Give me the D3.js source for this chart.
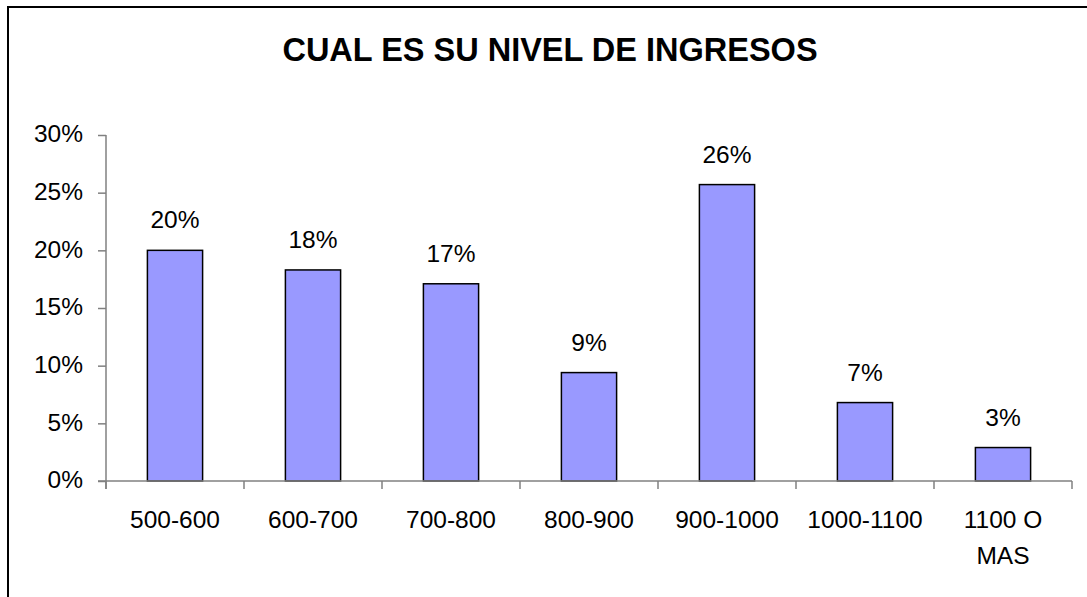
<!DOCTYPE html>
<html>
<head>
<meta charset="utf-8">
<script src="https://cdn.jsdelivr.net/npm/d3@7"></script>
<style>
  body { margin: 0; background: #fff; }
  svg { display: block; font-family: "Liberation Sans", Arial, sans-serif; }
</style>
</head>
<body>
<svg id="chart" width="1087" height="597"></svg>
<script>
// data
const categories = ["500-600", "600-700", "700-800", "800-900", "900-1000", "1000-1100", "1100 O MAS"];
const values = [0.20, 0.183, 0.171, 0.094, 0.257, 0.068, 0.029];
const valueLabels = ["20%", "18%", "17%", "9%", "26%", "7%", "3%"];
const yTicks = [0, 0.05, 0.10, 0.15, 0.20, 0.25, 0.30];
const title = "CUAL ES SU NIVEL DE INGRESOS";

const svg = d3.select("#chart");
const margin = { left: 106, right: 1072, top: 135, bottom: 481 };
const fs = 24.5;

// outer frame
svg.append("rect")
  .attr("x", 8).attr("y", 7)
  .attr("width", 1100).attr("height", 620)
  .attr("fill", "none")
  .attr("stroke", "#000")
  .attr("stroke-width", 2);

svg.append("text")
  .attr("x", 550).attr("y", 61)
  .attr("text-anchor", "middle")
  .attr("font-size", 32.5)
  .attr("font-weight", "bold")
  .text(title);

const x = d3.scaleBand().domain(categories).range([margin.left, margin.right]).paddingInner(0.6).paddingOuter(0.3);
const xTick = d3.scaleBand().domain(categories).range([margin.left, margin.right]);
const y = d3.scaleLinear().domain([0, 0.30]).range([margin.bottom, margin.top]);

// y axis
const yAxis = svg.append("g")
  .attr("transform", `translate(${margin.left},0)`)
  .call(d3.axisLeft(y).tickValues(yTicks).tickFormat(d3.format(".0%")).tickSize(8).tickPadding(15));
yAxis.select(".domain").attr("stroke", "#808080").attr("stroke-width", 1.5)
  .attr("d", `M0,${margin.top}V${margin.bottom + 8}`);
yAxis.selectAll(".tick line").attr("stroke", "#808080").attr("stroke-width", 1.5);
yAxis.selectAll(".tick text").attr("font-size", fs).attr("fill", "#000").attr("dy", "0.28em")
  .attr("font-family", "Liberation Sans, Arial, sans-serif");

// bars
svg.selectAll("rect.bar")
  .data(values)
  .join("rect")
  .attr("class", "bar")
  .attr("x", (d, i) => x(categories[i]))
  .attr("y", d => y(d))
  .attr("width", x.bandwidth())
  .attr("height", d => y(0) - y(d))
  .attr("fill", "#9999ff")
  .attr("stroke", "#000")
  .attr("stroke-width", 1.5);

// x axis
const xAxis = svg.append("g").attr("transform", `translate(0,${margin.bottom})`);
xAxis.append("line")
  .attr("x1", margin.left - 8).attr("x2", margin.right)
  .attr("stroke", "#808080").attr("stroke-width", 1.5);
xAxis.selectAll("line.tick")
  .data(categories.concat(["end"]))
  .join("line")
  .attr("class", "tick")
  .attr("x1", (d, i) => i < categories.length ? xTick(d) : margin.right)
  .attr("x2", (d, i) => i < categories.length ? xTick(d) : margin.right)
  .attr("y1", 0).attr("y2", 8)
  .attr("stroke", "#808080").attr("stroke-width", 1.5);

// category labels, wrap "1100 O MAS"
categories.forEach((c, i) => {
  const parts = c === "1100 O MAS" ? ["1100 O", "MAS"] : [c];
  const t = svg.append("text")
    .attr("x", xTick(c) + xTick.bandwidth() / 2)
    .attr("y", 528)
    .attr("text-anchor", "middle")
    .attr("font-size", fs);
  parts.forEach((p, j) => {
    t.append("tspan").attr("x", xTick(c) + xTick.bandwidth() / 2).attr("dy", j ? 36 : 0).text(p);
  });
});

// value labels
svg.selectAll("text.val")
  .data(values)
  .join("text")
  .attr("class", "val")
  .attr("x", (d, i) => x(categories[i]) + x.bandwidth() / 2)
  .attr("y", d => y(d) - 22)
  .attr("text-anchor", "middle")
  .attr("font-size", fs)
  .text((d, i) => valueLabels[i]);
</script>
</body>
</html>
